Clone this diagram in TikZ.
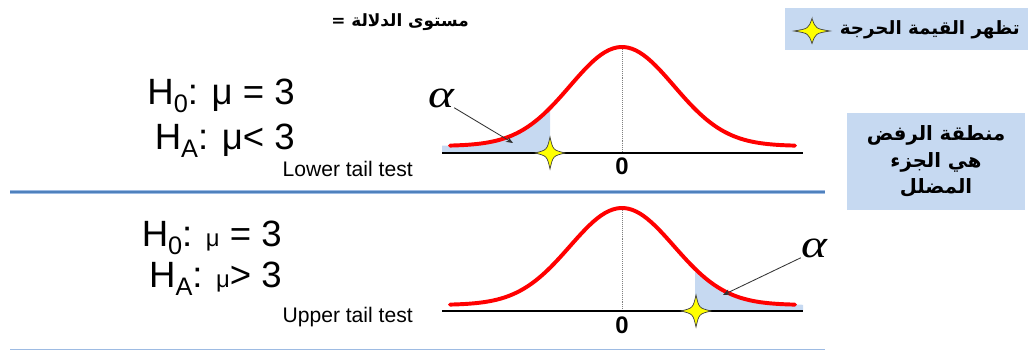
\documentclass[tikz,border=0pt]{standalone}
\usepackage{fontspec}
\setmainfont{Liberation Sans}
\newfontfamily\arabicfont[Script=Arabic]{DejaVu Sans}
\newfontfamily\alphafont{Liberation Serif}
\TeXXeTstate=1
\usetikzlibrary{arrows.meta, positioning}
\definecolor{hypRed}{HTML}{FF0000}
\definecolor{hypShade}{HTML}{C6D9F1}
\definecolor{hypBlue}{HTML}{4F81BD}
\definecolor{hypPale}{HTML}{9DBBE3}
\definecolor{hypStar}{HTML}{FFFF00}
\newcommand{\hsub}[1]{\raisebox{-5pt}{\fontsize{18}{18}\selectfont #1}}
\newcommand{\widealpha}{\scalebox{1.25}[1]{α}}

\begin{document}
\begin{tikzpicture}[x=0.025cm, y=-0.025cm,
  hyp/.style={anchor=base east, inner sep=0pt, font=\fontsize{26}{30}\selectfont},
  tailtxt/.style={anchor=base east, inner sep=0pt, font=\fontsize{15}{18}\selectfont},
  zero/.style={font=\fontsize{17}{20}\selectfont\bfseries, inner sep=0pt},
  alphatxt/.style={font=\alphafont\itshape\fontsize{28}{28}\selectfont, inner sep=0pt},
  arbox/.style={fill=hypShade, align=center, inner sep=0pt,
    font=\arabicfont\bfseries\fontsize{14}{19}\selectfont},
  axis/.style={line width=1.4pt, black},
  bell/.style={line width=2.8pt, hypRed, line cap=round},
  tail/.style={fill=hypShade},
  arr/.style={-{Stealth[length=5pt, width=4pt]}, line width=0.6pt, black!80},
  critstar/.pic={\filldraw[fill=hypStar, draw=black!75, line width=0.5pt]
    (0,-16) .. controls (3,-3) .. (15,0) .. controls (3,3) .. (0,16)
    .. controls (-3,3) .. (-15,0) .. controls (-3,-3) .. cycle;}]

  \path[use as bounding box] (0,0) rectangle (1031,352);

  % top label
  \node[font=\arabicfont\bfseries\fontsize{12}{14}\selectfont] (level) at (400,22) {\beginR مستوى الدلالة =\endR};

  % legend boxes
  \node[arbox, minimum width=243*0.025cm, minimum height=42*0.025cm] (legend) at (906.5,29) {};
  \node[font=\arabicfont\bfseries\fontsize{13}{16}\selectfont, anchor=east, inner sep=0pt] (legtxt) at (1020,30) {\beginR تظهر القيمة الحرجة\endR};
  \pic[xscale=1.2, yscale=0.78] at (812,31) {critstar};
  \node[arbox, minimum width=178*0.025cm, minimum height=97*0.025cm] (reject) at (936,161.5)
    {\beginR منطقة الرفض\endR\\\beginR هي الجزء\endR\\\beginR المضلل\endR};

  % lower tail test
  \node[hyp] (h0low) at (295,105) {H\hsub{0}: μ = 3};
  \node[hyp] (halow) at (295,150) {H\hsub{A}: μ< 3};
  \node[tailtxt] (lowtxt) at (413,177) {Lower tail test};

  \fill[tail] (442,153) -- plot[domain=442:550, samples=40] (\x, {146-99*exp(-0.5*((\x-622)/52)^2)}) -- (550,153) -- cycle;
  \draw[densely dotted, gray, line width=0.4pt] (622,47) -- (622,153);
  \draw[axis] (442,153) -- (803,153);
  \draw[bell] plot[domain=450:795, samples=90] (\x, {146-99*exp(-0.5*((\x-622)/52)^2)});
  \node[zero] (zlow) at (622,166) {0};
  \pic at (550,153) {critstar};
  \node[alphatxt] (alow) at (441,98) {\widealpha};
  \coordinate (alowtip) at (513,143);
  \draw[arr] (alow.south east) -- (alowtip);

  % separator
  \draw[hypPale, line width=3.5pt] (10,192) -- (825,192);
  \draw[hypBlue, line width=1.8pt] (10,192) -- (825,192);

  % upper tail test
  \node[hyp] (h0up) at (282,247) {H\hsub{0}: {\fontsize{17}{20}\selectfont μ} = 3};
  \node[hyp] (haup) at (282,288) {H\hsub{A}: {\fontsize{17}{20}\selectfont μ}> 3};
  \node[tailtxt] (uptxt) at (413,323) {Upper tail test};

  \fill[tail] (695,311) -- plot[domain=695:803, samples=40] (\x, {305-97*exp(-0.5*((\x-622)/52)^2)}) -- (803,311) -- cycle;
  \draw[densely dotted, gray, line width=0.4pt] (622,208) -- (622,311);
  \draw[axis] (442,311) -- (803,311);
  \draw[bell] plot[domain=450:795, samples=90] (\x, {305-97*exp(-0.5*((\x-622)/52)^2)});
  \node[zero] (zup) at (622,325) {0};
  \pic at (696,311) {critstar};
  \node[alphatxt] (aup) at (814,248) {\widealpha};
  \coordinate (auptip) at (723,295);
  \draw[arr] (aup.south west) -- (auptip);

  % bottom rule
  \draw[hypPale, line width=1.4pt] (10,349.5) -- (825,349.5);
\end{tikzpicture}
\end{document}
